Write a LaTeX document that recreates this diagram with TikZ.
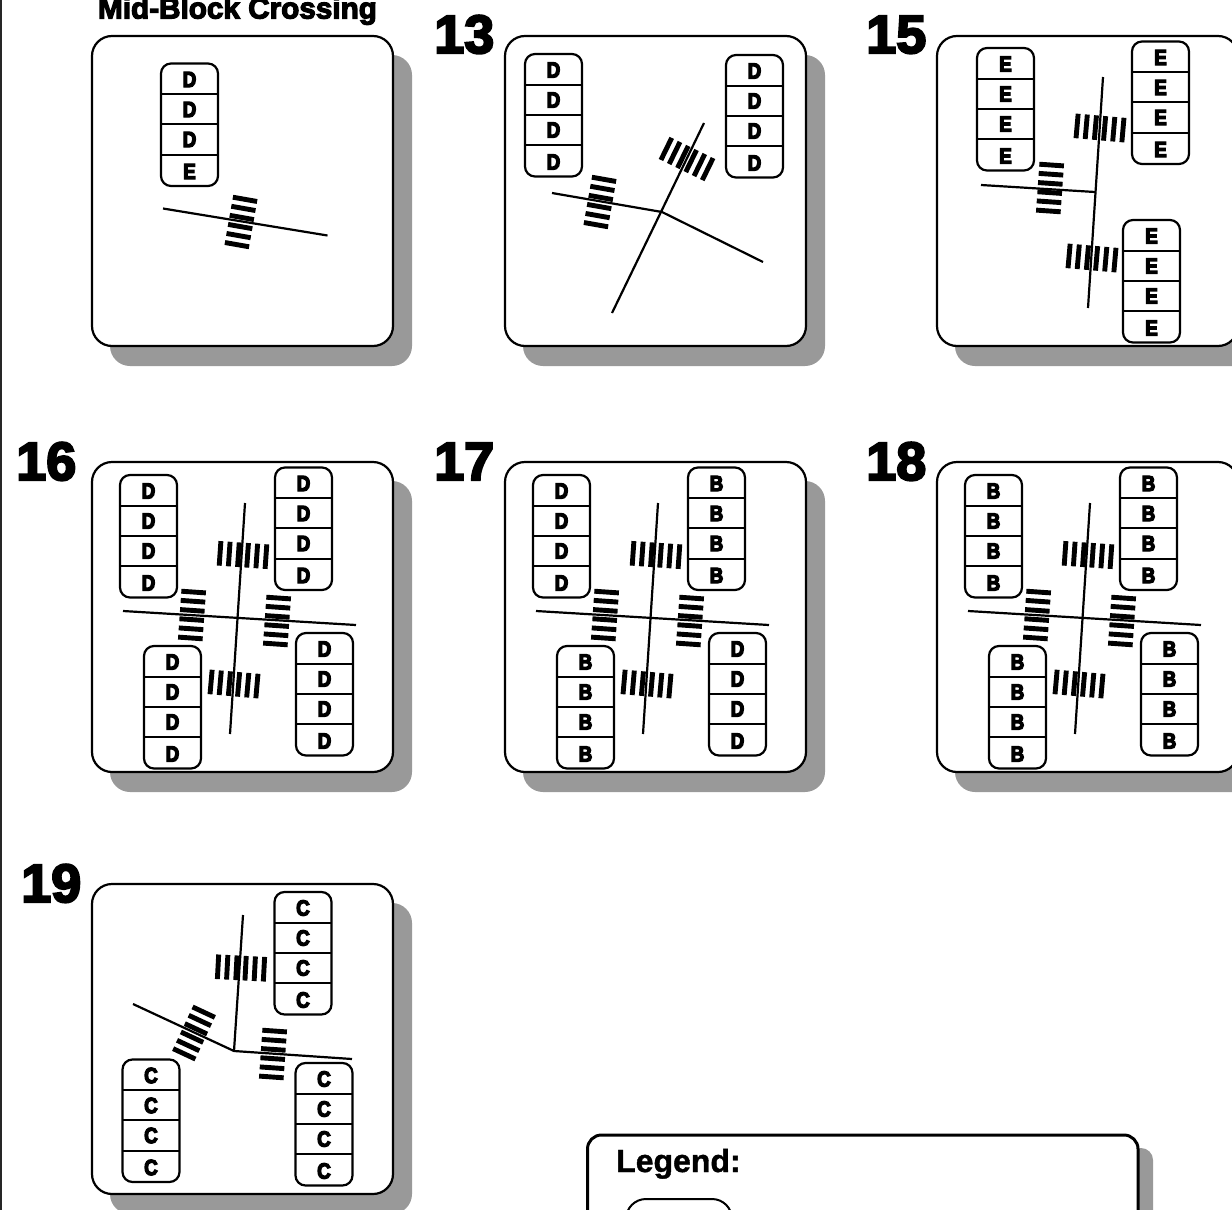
\documentclass[tikz,border=0pt]{standalone}
\usepackage{fontspec}
\setmainfont{Liberation Sans}
\newfontfamily\heavyfont[FakeBold=4]{Liberation Sans Bold}
\newfontfamily\lettersfont[FakeBold=6,FakeStretch=0.85]{Liberation Sans Bold}
\newfontfamily\demifont[FakeBold=1.2,FakeStretch=1.0]{Liberation Sans Bold}
\definecolor{shadowgray}{HTML}{999999}
\tikzset{
  x=1pt,y=-1pt,
  panelshadow/.style={fill=shadowgray,draw=none,rounded corners=20pt},
  panelframe/.style={fill=white,draw=black,line width=2.2pt,rounded corners=20pt},
  queueframe/.style={fill=white,draw=black,line width=2.2pt,rounded corners=10pt},
  queuerule/.style={draw=black,line width=2pt},
  queueletter/.style={inner sep=0pt,font=\lettersfont\fontsize{22}{22}\selectfont},
  road/.style={draw=black,line width=2.2pt,line join=round},
  zebrabar/.style={draw=black,line width=4.9pt},
  panelnumber/.style={inner sep=0pt,anchor=base west,font=\heavyfont\fontsize{54}{54}\selectfont},
}
% panel at top-left corner
\newcommand{\panelbox}[2]{%
  \fill[panelshadow] (#1+18,#2+19) rectangle ++(302,311);
  \draw[panelframe] (#1,#2) rectangle ++(301,310);
}
% name, left, top, four letters
\newcommand{\queuebox}[7]{%
  \draw[queueframe] (#2,#3) rectangle ++(57,122.5);
  \draw[queuerule] (#2,#3+30.5) -- ++(57,0);
  \draw[queuerule] (#2,#3+60.5) -- ++(57,0);
  \draw[queuerule] (#2,#3+91) -- ++(57,0);
  \node[queueletter] (#1-a) at (#2+28.5,#3+16) {#4};
  \node[queueletter] (#1-b) at (#2+28.5,#3+46) {#5};
  \node[queueletter] (#1-c) at (#2+28.5,#3+76) {#6};
  \node[queueletter] (#1-d) at (#2+28.5,#3+108) {#7};
}
% centre x, centre y, clockwise angle of the bars
\newcommand{\zebra}[3]{%
  \begin{scope}[shift={(#1,#2)},rotate=-#3]
    \foreach \k in {-2.5,-1.5,-0.5,0.5,1.5,2.5}
      \draw[zebrabar] (-12.3,{\k*9.2}) -- (12.3,{\k*9.2});
  \end{scope}
}
% prefix, x offset, four corner letters
\newcommand{\fourway}[6]{%
  \begin{scope}[xshift=#2pt]
    \panelbox{92}{462}
    \queuebox{#1tl}{120}{475}{#3}{#3}{#3}{#3}
    \queuebox{#1tr}{275}{467.5}{#4}{#4}{#4}{#4}
    \queuebox{#1bl}{144}{646}{#5}{#5}{#5}{#5}
    \queuebox{#1br}{296}{633}{#6}{#6}{#6}{#6}
    \zebra{243}{555}{-86}
    \zebra{192}{615}{4}
    \zebra{277}{621}{4}
    \zebra{234}{684}{-85}
    \draw[road] (245,503) -- (230,734);
    \draw[road] (123,611) -- (356,625);
  \end{scope}
}
\begin{document}
\begin{tikzpicture}
\useasboundingbox (0,0) rectangle (1232,1210);
\clip (0,0) rectangle (1232,1210);
\fill[white] (0,0) rectangle (1232,1210);
\draw[black!85,line width=1.6pt] (0.8,0) -- (0.8,1210);

% Mid-block
\node[inner sep=0pt,anchor=base,font=\heavyfont\fontsize{29.7}{30}\selectfont] (title) at (237.5,18.5) {Mid-Block Crossing};
\panelbox{92}{36}
\queuebox{m}{161}{63.5}{D}{D}{D}{E}
\zebra{241}{222}{10}
\draw[road] (163,208.5) -- (327.5,235.5);

% 13
\node[panelnumber] (n13) at (434,53) {13};
\panelbox{505}{36}
\queuebox{pa}{525}{54}{D}{D}{D}{D}
\queuebox{pb}{726}{55}{D}{D}{D}{D}
\zebra{600}{202}{10}
\zebra{687}{159}{-64}
\draw[road] (552,193) -- (662,212) -- (763,262);
\draw[road] (704,123) -- (660,214) -- (612,313);

% 15
\node[panelnumber] (n15) at (866,53) {15};
\panelbox{937}{36}
\queuebox{qa}{977}{48}{E}{E}{E}{E}
\queuebox{qb}{1132}{41.5}{E}{E}{E}{E}
\queuebox{qc}{1123}{220}{E}{E}{E}{E}
\zebra{1100}{128}{-85}
\zebra{1050}{188}{4}
\zebra{1092}{258}{-85}
\draw[road] (1103,77) -- (1088,308);
\draw[road] (981,185) -- (1095,192);

% 16, 17, 18
\node[panelnumber] (n16) at (16,480) {16};
\fourway{r}{0}{D}{D}{D}{D}
\node[panelnumber] (n17) at (434,480) {17};
\fourway{s}{413}{D}{B}{B}{D}
\node[panelnumber] (n18) at (866,480) {18};
\fourway{t}{845}{B}{B}{B}{B}

% 19
\node[panelnumber] (n19) at (21,902) {19};
\panelbox{92}{884}
\queuebox{ua}{274.5}{892}{C}{C}{C}{C}
\queuebox{ub}{122.5}{1059.5}{C}{C}{C}{C}
\queuebox{uc}{295.5}{1063}{C}{C}{C}{C}
\zebra{241}{968}{-87}
\zebra{194}{1033}{25}
\zebra{273}{1054}{4}
\draw[road] (243,915) -- (234,1051);
\draw[road] (133,1004) -- (234,1051) -- (352,1059);

% Legend
\fill[shadowgray,rounded corners=12pt] (600,1148) rectangle (1153,1240);
\draw[fill=white,draw=black,line width=3pt,rounded corners=14pt] (587.5,1135) rectangle (1138,1260);
\node[inner sep=0pt,anchor=base west,font=\demifont\fontsize{32}{32}\selectfont] (legend) at (616,1172) {Legend:};
\draw[fill=white,draw=black,line width=2pt,rounded corners=20pt] (626,1199) rectangle (732,1290);
\end{tikzpicture}
\end{document}
